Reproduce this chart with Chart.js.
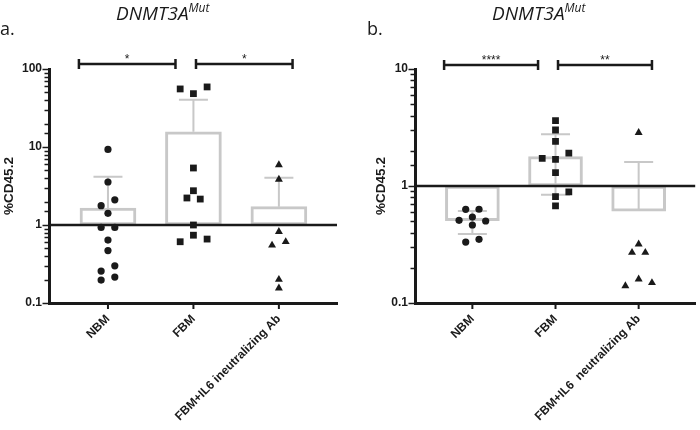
<!DOCTYPE html>
<html>
<head>
<meta charset="utf-8">
<script src="https://cdn.jsdelivr.net/npm/chart.js@4"></script>
<style>
  body { margin: 0; background: #fff; }
  #page { position: relative; width: 700px; height: 430px; overflow: hidden; background: #fff; }
  .panel { position: absolute; top: 0; width: 350px; height: 430px; }
  .title { position: absolute; font-family: "Open Sans", sans-serif; font-style: italic; font-size: 19px; line-height: 22px; color: #1a1a1a; white-space: nowrap; }
  .title sup { font-size: 12px; position: relative; top: -1px; }
  .letter { position: absolute; font-family: "Open Sans", sans-serif; font-size: 18px; line-height: 22px; color: #1a1a1a; }
</style>
</head>
<body>
<div id="page">
  <div class="panel" style="left:0"><canvas id="chartA" width="350" height="430"></canvas></div>
  <div class="panel" style="left:350px"><canvas id="chartB" width="350" height="430"></canvas></div>
  <div class="title" style="left:116px; top:-2px">DNMT3A<sup>Mut</sup></div>
  <div class="title" style="left:492px; top:-2px">DNMT3A<sup>Mut</sup></div>
  <div class="letter" style="left:0px; top:17px">a.</div>
  <div class="letter" style="left:367px; top:17px">b.</div>
</div>
<script>
// panel a
const categoriesA = ["NBM", "FBM", "FBM+IL6 ineutralizing Ab"];
const meanA = [1.65, 15.7, 1.72];
const sdUpA = [4.15, 40.4, 4.04];
const sdLowA = [null, null, null];
const nbmA = [9.3, 3.56, 1.77, 2.1, 1.41, 0.93, 0.93, 0.64, 0.47, 0.3, 0.257, 0.215, 0.197];
const nbmJitterA = [0, 0, -0.08, 0.08, 0, -0.08, 0.08, 0, 0, 0.08, -0.08, 0.08, -0.08];
const fbmA = [55.5, 48.3, 58.9, 5.38, 2.75, 2.22, 2.15, 1.0, 0.74, 0.61, 0.66];
const fbmJitterA = [-0.155, 0, 0.16, 0, 0, -0.076, 0.08, 0, 0, -0.155, 0.16];
const abA = [5.9, 3.85, 0.82, 0.55, 0.61, 0.2, 0.155];
const abJitterA = [0, 0, 0, -0.08, 0.08, 0, 0];
const bracketYA = 116;
const starsA = ["*", "*"];

// panel b
const categoriesB = ["NBM", "FBM", "FBM+IL6  neutralizing Ab"];
const meanB = [0.506, 1.78, 0.61];
const sdUpB = [0.61, 2.77, 1.6];
const sdLowB = [0.389, 0.84, null];
const nbmB = [0.632, 0.633, 0.543, 0.509, 0.502, 0.464, 0.332, 0.35];
const nbmJitterB = [-0.08, 0.08, 0, -0.16, 0.16, 0, -0.08, 0.08];
const fbmB = [3.62, 3.01, 2.41, 1.72, 1.69, 1.91, 1.3, 0.81, 0.89, 0.675];
const fbmJitterB = [0, 0, 0, -0.16, 0, 0.16, 0, 0, 0.16, 0];
const abB = [2.86, 0.318, 0.27, 0.27, 0.16, 0.14, 0.149];
const abJitterB = [0, 0, -0.08, 0.08, 0, -0.16, 0.16];
const bracketYB = 10.8;
const starsB = ["****", "**"];

// shared
const refValue = 1;
const bracketStart = [-0.34, 1.03];
const bracketEnd = [0.79, 2.16];
const yLabel = "%CD45.2";

const INK = "#1a1a1a";
const BAR_GREY = "#c8c8c8";
const boldFont = (size) => ({ family: "'Liberation Sans', Arial, sans-serif", weight: "bold", size });

const panelDecor = {
  id: "panelDecor",
  afterDatasetDraw(chart, args, opts) {
    if (args.index !== 0) return;
    const { ctx, chartArea, scales: { x, y } } = chart;
    ctx.save();
    // error bars
    ctx.strokeStyle = BAR_GREY;
    ctx.lineWidth = 2;
    opts.mean.forEach((m, i) => {
      const px = x.getPixelForValue(i);
      const ends = [opts.sdUp[i], opts.sdLow[i]].filter((v) => v != null);
      ends.forEach((v) => {
        const py = y.getPixelForValue(v);
        ctx.beginPath();
        ctx.moveTo(px, y.getPixelForValue(m));
        ctx.lineTo(px, py);
        ctx.moveTo(px - 14.5, py);
        ctx.lineTo(px + 14.5, py);
        ctx.stroke();
      });
    });
    // line at 1
    const y1 = y.getPixelForValue(opts.refValue);
    ctx.strokeStyle = INK;
    ctx.lineWidth = 2.5;
    ctx.beginPath();
    ctx.moveTo(chartArea.left, y1);
    ctx.lineTo(chartArea.right, y1);
    ctx.stroke();
    ctx.restore();
  },
  afterDraw(chart, args, opts) {
    const { ctx, chartArea, scales: { x, y } } = chart;
    ctx.save();
    // log ticks, long at decades
    ctx.strokeStyle = INK;
    ctx.lineWidth = 1.5;
    y.ticks.forEach((t) => {
      const major = Math.abs(Math.log10(t.value) - Math.round(Math.log10(t.value))) < 1e-6;
      const py = Math.round(y.getPixelForValue(t.value)) + 0.5;
      const len = major ? 5 : 3;
      ctx.beginPath();
      ctx.moveTo(chartArea.left - 1.5 - len, py);
      ctx.lineTo(chartArea.left, py);
      ctx.stroke();
    });
    // category ticks on x axis
    ctx.lineWidth = 2;
    x.ticks.forEach((t) => {
      const px = x.getPixelForValue(t.value);
      ctx.beginPath();
      ctx.moveTo(px, chartArea.bottom);
      ctx.lineTo(px, chartArea.bottom + 6);
      ctx.stroke();
    });
    // significance brackets
    ctx.lineWidth = 2.5;
    ctx.fillStyle = INK;
    ctx.font = "12px 'Liberation Sans', Arial, sans-serif";
    ctx.textAlign = "center";
    ctx.textBaseline = "alphabetic";
    const by = y.getPixelForValue(opts.bracketY);
    opts.stars.forEach((s, i) => {
      const x1 = x.getPixelForValue(bracketStart[i]);
      const x2 = x.getPixelForValue(bracketEnd[i]);
      ctx.beginPath();
      ctx.moveTo(x1, by);
      ctx.lineTo(x2, by);
      ctx.moveTo(x1, by - 5);
      ctx.lineTo(x1, by + 5);
      ctx.moveTo(x2, by - 5);
      ctx.lineTo(x2, by + 5);
      ctx.stroke();
      ctx.fillText(s, (x1 + x2) / 2, by - 1);
    });
    ctx.restore();
  },
};

function pointSet(values, jitter, cat, style, radius) {
  return {
    type: "scatter",
    data: values.map((v, i) => ({ x: cat + jitter[i], y: v })),
    pointStyle: style,
    pointRadius: radius,
    backgroundColor: INK,
    borderColor: INK,
    borderWidth: 0,
    order: 1,
  };
}

function makePanel(id, p) {
  return new Chart(document.getElementById(id), {
    type: "bar",
    data: {
      datasets: [
        {
          type: "bar",
          data: p.mean.map((m, i) => ({ x: i, y: [refValue, m] })),
          backgroundColor: "#ffffff",
          borderColor: BAR_GREY,
          borderWidth: 3,
          borderSkipped: false,
          barThickness: p.barWidth,
          order: 2,
        },
        pointSet(p.nbm, p.nbmJitter, 0, "circle", 3.6),
        pointSet(p.fbm, p.fbmJitter, 1, "rect", 4.8),
        pointSet(p.ab, p.abJitter, 2, "triangle", 4.6),
      ],
    },
    options: {
      responsive: false,
      devicePixelRatio: 1,
      animation: false,
      events: [],
      layout: { padding: { top: 69, right: p.padRight, left: p.padLeft, bottom: 0 } },
      plugins: {
        legend: { display: false },
        tooltip: { enabled: false },
        panelDecor: { mean: p.mean, sdUp: p.sdUp, sdLow: p.sdLow, refValue, bracketY: p.bracketY, stars: p.stars },
      },
      scales: {
        x: {
          type: "linear",
          min: -0.69,
          max: 2.68,
          offset: false,
          afterBuildTicks: (s) => { s.ticks = p.categories.map((_, i) => ({ value: i })); },
          afterFit: (s) => { s.height = 127; },
          ticks: {
            callback: (v) => p.categories[v],
            autoSkip: false,
            minRotation: 45,
            maxRotation: 45,
            padding: 4,
            color: INK,
            font: boldFont(12),
          },
          grid: { display: false, drawTicks: true, tickLength: 5 },
          border: { display: true, width: 3, color: INK },
        },
        y: {
          type: "logarithmic",
          min: p.yMin,
          max: p.yMax,
          afterFit: (s) => { s.width = p.yWidth; },
          ticks: {
            autoSkip: false,
            padding: 7,
            color: INK,
            font: boldFont(12),
            callback: (v) => {
              const e = Math.log10(v);
              return Math.abs(e - Math.round(e)) < 1e-6 ? String(v) : "";
            },
          },
          grid: { display: false, drawTicks: false },
          border: { display: true, width: 3, color: INK },
          title: { display: true, text: yLabel, color: INK, font: boldFont(13.5), padding: { top: 1, bottom: 0 } },
        },
      },
    },
    plugins: [panelDecor],
  });
}

makePanel("chartA", {
  categories: categoriesA, mean: meanA, sdUp: sdUpA, sdLow: sdLowA,
  nbm: nbmA, nbmJitter: nbmJitterA, fbm: fbmA, fbmJitter: fbmJitterA, ab: abA, abJitter: abJitterA,
  bracketY: bracketYA, stars: starsA, yMin: 0.1, yMax: 100,
  barWidth: 56, padLeft: 0, padRight: 13, yWidth: 49,
});

makePanel("chartB", {
  categories: categoriesB, mean: meanB, sdUp: sdUpB, sdLow: sdLowB,
  nbm: nbmB, nbmJitter: nbmJitterB, fbm: fbmB, fbmJitter: fbmJitterB, ab: abB, abJitter: abJitterB,
  bracketY: bracketYB, stars: starsB, yMin: 0.1, yMax: 10,
  barWidth: 54, padLeft: 22, padRight: 0, yWidth: 43,
});
</script>
</body>
</html>
